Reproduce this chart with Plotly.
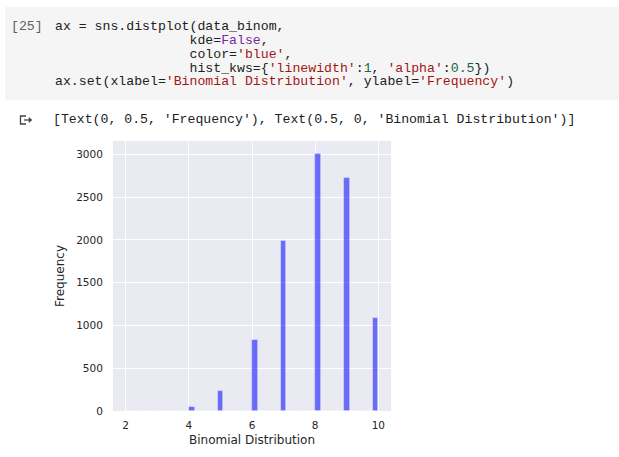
import numpy as np
import plotly.graph_objects as go

# binomial draws (n=10, p=0.8) as counts per outcome
outcomes = [2, 3, 4, 5, 6, 7, 8, 9, 10]
counts = [1, 5, 50, 237, 830, 1991, 3007, 2728, 1087]

x_ticks = [2, 4, 6, 8, 10]
y_ticks = [0, 500, 1000, 1500, 2000, 2500, 3000]

# same binning seaborn's distplot picked (Freedman-Diaconis -> 44 bins)
hist, edges = np.histogram(outcomes, bins=44, weights=counts)
centers = (edges[:-1] + edges[1:]) / 2
bin_w = edges[1] - edges[0]

W, H = 619, 457
L, R, T, B = 113, 391, 141, 411


def px(x):
    return (x - L) / (R - L)


def py(y):
    return (B - y) / (B - T)


fig = go.Figure()
fig.add_trace(go.Bar(
    x=centers, y=hist, width=bin_w,
    marker=dict(color="rgba(0,0,255,0.55)",
                line=dict(color="rgba(255,255,255,0.4)", width=0.8)),
    hoverinfo="x+y",
))

MONO = "Liberation Mono"
BLACK = "#212121"
RED = "#a31515"
PURPLE = "#7928a1"
GREEN = "#116644"


def sp(txt, col=None):
    txt = txt.replace(" ", "\u00a0")
    if col:
        return '<span style="color:%s">%s</span>' % (col, txt)
    return txt


code_lines = [
    sp("ax = sns.distplot(data_binom,"),
    sp(" " * 17 + "kde=") + sp("False", PURPLE) + sp(","),
    sp(" " * 17 + "color=") + sp("'blue'", RED) + sp(","),
    sp(" " * 17 + "hist_kws={") + sp("'linewidth'", RED) + sp(":") + sp("1", GREEN)
    + sp(", ") + sp("'alpha'", RED) + sp(":") + sp("0.5", GREEN) + sp("})"),
    sp("ax.set(xlabel=") + sp("'Binomial Distribution'", RED) + sp(", ylabel=")
    + sp("'Frequency'", RED) + sp(")"),
]
line_y = [27, 41, 54.5, 68, 81.5]

annots = []
annots.append(dict(text="[25]", x=px(9), y=py(line_y[0]), font=dict(family=MONO, size=13.2, color="#616161")))
for t, yy in zip(code_lines, line_y):
    annots.append(dict(text=t, x=px(53), y=py(yy), font=dict(family=MONO, size=13.2, color=BLACK)))
annots.append(dict(
    text=sp("[Text(0, 0.5, 'Frequency'), Text(0.5, 0, 'Binomial Distribution')]"),
    x=px(51), y=py(119), font=dict(family=MONO, size=13.2, color=BLACK)))
for a in annots:
    a.update(xref="paper", yref="paper", xanchor="left", yanchor="middle", showarrow=False)

shapes = [
    # code cell background
    dict(type="rect", xref="paper", yref="paper", x0=px(5), x1=px(619), y0=py(100), y1=py(7),
         fillcolor="#f5f5f5", line=dict(width=0), layer="below"),
    # output icon
    dict(type="path", xref="paper", yref="paper",
         path="M %f,%f L %f,%f L %f,%f L %f,%f" % (px(26), py(116), px(20.5), py(116),
                                                  px(20.5), py(124), px(26), py(124)),
         line=dict(color="#444444", width=1.3)),
    dict(type="line", xref="paper", yref="paper", x0=px(24), x1=px(30), y0=py(120), y1=py(120),
         line=dict(color="#444444", width=1.3)),
    dict(type="path", xref="paper", yref="paper",
         path="M %f,%f L %f,%f L %f,%f Z" % (px(29), py(117.5), px(32), py(120), px(29), py(122.5)),
         fillcolor="#444444", line=dict(color="#444444", width=0.5)),
]

fig.update_layout(
    width=W, height=H,
    margin=dict(l=L, r=W - R, t=T, b=H - B, pad=0),
    paper_bgcolor="white",
    plot_bgcolor="#eaeaf2",
    showlegend=False,
    bargap=0,
    font=dict(family="DejaVu Sans", color="#262626"),
    annotations=annots,
    shapes=shapes,
)
fig.update_xaxes(
    range=[1.6, 10.4], tickvals=x_ticks, ticktext=[str(v) for v in x_ticks],
    showgrid=True, gridcolor="white", gridwidth=1.2, zeroline=False,
    ticks="outside", ticklen=4, tickcolor="rgba(0,0,0,0)",
    tickfont=dict(size=10.5),
    title=dict(text="Binomial Distribution", font=dict(size=12), standoff=6),
)
fig.update_yaxes(
    range=[0, 3157], tickvals=y_ticks, ticktext=[str(v) for v in y_ticks],
    showgrid=True, gridcolor="white", gridwidth=1.2, zeroline=False,
    ticks="outside", ticklen=7, tickcolor="rgba(0,0,0,0)",
    tickfont=dict(size=10.5),
    title=dict(text="Frequency", font=dict(size=12), standoff=8),
)

# the page's default body margin would push the figure 8px off the corner
fig.write_html("out.html", config={"displayModeBar": False},
               post_script="document.body.style.margin='0';")
